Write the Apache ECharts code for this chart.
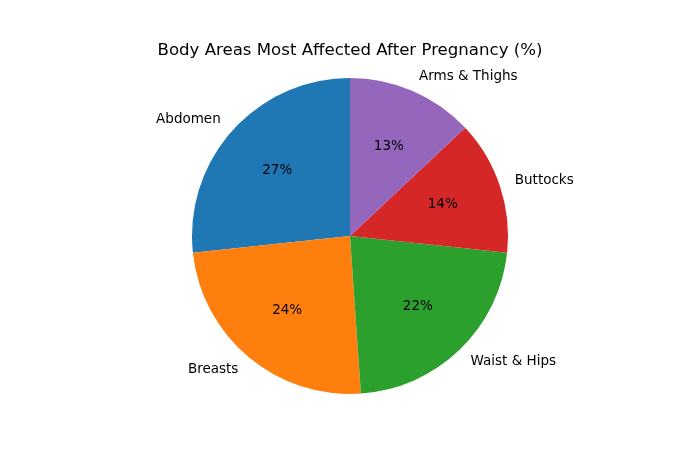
<!DOCTYPE html>
<html>
<head>
<meta charset="utf-8">
<script src="https://cdn.jsdelivr.net/npm/echarts@6/dist/echarts.min.js"></script>
<style>html,body{margin:0;padding:0;background:#fff;}#c{width:700px;height:450px;}</style>
</head>
<body>
<div id="c"></div>
<script>
const categories = ['Abdomen', 'Breasts', 'Waist & Hips', 'Buttocks', 'Arms & Thighs'];
const values = [26.7, 24.4, 22.2, 13.7, 13.0];
const colors = ['#1f77b4', '#ff7f0e', '#2ca02c', '#d62728', '#9467bd'];

const R = 158;
const center = [350, 236];
const font = 'DejaVu Sans';
const data = categories.map((c, i) => ({ name: c, value: values[i], itemStyle: { color: colors[i] } }));
const ghost = categories.map((c, i) => ({ name: c, value: values[i] }));
const base = { type: 'pie', center: center, startAngle: 90, clockwise: false, avoidLabelOverlap: false, animation: false };

const chart = echarts.init(document.getElementById('c'));
chart.setOption({
  backgroundColor: '#fff',
  title: {
    text: 'Body Areas Most Affected After Pregnancy (%)',
    left: 'center', top: 37,
    textStyle: { fontFamily: font, fontSize: 16.6, fontWeight: 'normal', color: '#000' }
  },
  series: [
    Object.assign({}, base, {
      radius: [0, R], data: data, silent: true,
      label: { show: false }, labelLine: { show: false }
    }),
    Object.assign({}, base, {
      radius: [0.55 * R, 0.65 * R], data: ghost, silent: true,
      itemStyle: { color: 'rgba(0,0,0,0)' },
      label: { show: true, position: 'inside', formatter: p => Math.round(p.value) + '%',
        fontFamily: font, fontSize: 13.5, color: '#000' },
      labelLine: { show: false }
    }),
    Object.assign({}, base, {
      radius: [0, R], data: ghost, silent: true,
      itemStyle: { color: 'rgba(0,0,0,0)' },
      label: { show: true, position: 'outside', formatter: '{b}', distanceToLabelLine: 0,
        fontFamily: font, fontSize: 13.5, color: '#000' },
      labelLine: { show: false, length: 0.1 * R, length2: 0 }
    })
  ]
});
</script>
</body>
</html>
